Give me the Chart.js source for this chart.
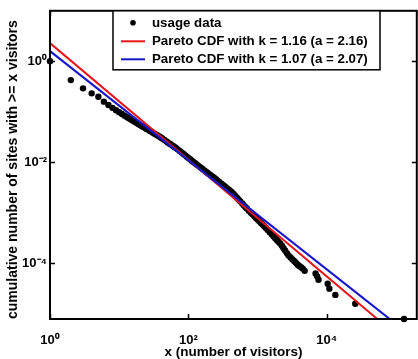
<!DOCTYPE html>
<html><head><meta charset="utf-8">
<script src="https://cdn.jsdelivr.net/npm/chart.js@4.4.1/dist/chart.umd.min.js"></script>
<style>html,body{margin:0;padding:0;background:#fff;overflow:hidden;width:418px;height:359px}canvas{display:block}</style>
</head><body><canvas id="c" width="420" height="359"></canvas>
<script>
// ---- data ----
const seriesLabels = ['usage data', 'Pareto CDF with k = 1.16 (a = 2.16)', 'Pareto CDF with k = 1.07 (a = 2.07)'];
const xTitle = 'x (number of visitors)';
const yTitle = 'cumulative number of sites with >= x visitors';
const xTickValues = [1, 100, 10000];
const yTickValues = [1e-4, 1e-2, 1];
const xRange = [1, 2e5];
const yRange = [7.75e-6, 10];

const usageX = [1,2,3,4,5,6,7,8,9,10,11,12,13,14,15,16,18,20,22,25,28,32,36,40,45,50,56,63,70,80,90,100,
  112,125,140,160,180,200,225,250,280,320,360,400,450,500,560,630,700,800,900,1000,
  1120,1250,1400,1600,1800,2000,2250,2500,2800,3200,3600,4000,4500,
  4790,6890,7260,7600,10300,10900,13300,25800,131000,
  17,19,21,24,27,30,34,38,42,48,53,60,66,75,85,95,106,118,132,150,170,190,212,237,265,300,340,380,425,
  475,530,600,665,750,850,950,1060,1180,1320,1500,1700,1900,2120,2370,2650,3000,3400,3800,4250];
const usageY = [1,0.423,0.290,0.231,0.198,0.158,0.136,0.119,0.107,0.0975,0.0899,0.0834,0.0776,0.0731,0.0690,0.0655,
  0.0594,0.0545,0.0504,0.0453,0.0413,0.0370,0.0336,0.0308,0.0275,0.0248,0.0223,0.0199,0.0179,0.0155,0.0136,0.0121,
  0.0107,0.00948,0.00843,0.00733,0.00647,0.00579,0.00512,0.00457,0.00404,0.00348,0.00305,0.00272,0.00233,0.00199,0.00167,0.00140,0.00120,0.000988,0.000841,0.000728,
  0.000623,0.000535,0.000453,0.000371,0.000310,0.000265,0.000220,0.000177,0.000141,0.000117,0.000100,0.0000875,0.0000774,
  0.0000698,0.0000620,0.0000543,0.0000465,0.0000388,0.0000310,0.0000233,0.0000155,0.00000775,
  0.0624,0.0568,0.0524,0.0469,0.0426,0.0390,0.0352,0.0321,0.0294,0.0258,0.0235,0.0208,0.0190,0.0166,0.0145,0.0128,
  0.0114,0.0101,0.00895,0.00783,0.00687,0.00611,0.00545,0.00484,0.00429,0.00374,0.00326,0.00287,0.00254,
  0.00214,0.00182,0.00151,0.00129,0.00108,0.000910,0.000780,0.000671,0.000578,0.000494,0.000408,0.000339,0.000286,
  0.000243,0.000197,0.000157,0.000128,0.000108,0.0000925,0.0000824];

const paretoRedX = [1, 53700];
const paretoRedY = [2.29, 7.75e-6];
const paretoBlueX = [1, 81300];
const paretoBlueY = [1.58, 7.75e-6];

// ---- helpers ----
const sup = {'0':'\u2070','1':'\u00B9','2':'\u00B2','3':'\u00B3','4':'\u2074','5':'\u2075','-':'\u207B'};
function powLabel(v){ const e = Math.round(Math.log10(v)); return '10' + String(e).split('').map(c => sup[c]).join(''); }
const pairs = (xs, ys) => xs.map((x, i) => ({x: x, y: ys[i]}));
const FONT = 'Liberation Sans, Arial, sans-serif';
const colors = ['#000000', '#e4161c', '#1818c8'];

const framePlugin = {
  id: 'frame',
  afterDatasetsDraw(chart) {
    const {ctx, chartArea: a, scales} = chart;
    ctx.save();
    ctx.strokeStyle = '#000';
    ctx.lineWidth = 1.5;
    ctx.beginPath();
    yTickValues.forEach(v => {
      const p = Math.round(scales.y.getPixelForValue(v)) + 0.5;
      ctx.moveTo(a.left, p); ctx.lineTo(a.left + 5, p);
      ctx.moveTo(a.right, p); ctx.lineTo(a.right - 5, p);
    });
    xTickValues.forEach(v => {
      const p = Math.round(scales.x.getPixelForValue(v)) + 0.5;
      ctx.moveTo(p, a.bottom); ctx.lineTo(p, a.bottom - 5);
      ctx.moveTo(p, a.top); ctx.lineTo(p, a.top + 5);
    });
    ctx.stroke();
    ctx.lineWidth = 2;
    ctx.strokeStyle = '#000';
    ctx.strokeRect(a.left, a.top, a.right - a.left, a.bottom - a.top);
    ctx.restore();
  },
  afterDraw(chart) {
    const {ctx, chartArea: a} = chart;
    const lx = a.left + 63, ly = a.top, lw = 267, lh = 59;
    ctx.save();
    ctx.fillStyle = '#fff';
    ctx.fillRect(lx, ly, lw, lh);
    ctx.strokeStyle = '#000';
    ctx.lineWidth = 1.5;
    ctx.strokeRect(lx, ly, lw, lh);
    const rows = [ly + 12, ly + 30.5, ly + 48.5];
    ctx.font = 'bold 13.3px ' + FONT;
    ctx.textBaseline = 'middle';
    ctx.textAlign = 'left';
    chart.data.datasets.forEach((ds, i) => {
      const y = rows[i];
      if (i === 0) {
        ctx.fillStyle = colors[0];
        ctx.beginPath(); ctx.arc(lx + 20, y, 2.8, 0, Math.PI * 2); ctx.fill();
      } else {
        ctx.strokeStyle = colors[i];
        ctx.lineWidth = 2;
        ctx.beginPath(); ctx.moveTo(lx + 8, y); ctx.lineTo(lx + 32, y); ctx.stroke();
      }
      ctx.fillStyle = '#000';
      ctx.fillText(ds.label, lx + 39, y + 0.5);
    });
    ctx.restore();
  }
};

new Chart(document.getElementById('c'), {
  type: 'scatter',
  data: {
    datasets: [
      {label: seriesLabels[0], data: pairs(usageX, usageY), backgroundColor: colors[0], borderColor: colors[0],
       pointRadius: 3.2, pointBorderWidth: 0, pointHoverRadius: 0, clip: false, order: 3},
      {label: seriesLabels[1], data: pairs(paretoRedX, paretoRedY), showLine: true, borderColor: colors[1],
       borderWidth: 2, pointRadius: 0, pointHoverRadius: 0, order: 2},
      {label: seriesLabels[2], data: pairs(paretoBlueX, paretoBlueY), showLine: true, borderColor: colors[2],
       borderWidth: 2.2, pointRadius: 0, pointHoverRadius: 0, order: 1}
    ]
  },
  options: {
    responsive: false,
    animation: false,
    events: [],
    layout: {padding: {top: 9, right: 1, left: 0, bottom: 0}},
    plugins: {legend: {display: false}, tooltip: {enabled: false}},
    scales: {
      x: {
        type: 'logarithmic', min: xRange[0], max: xRange[1],
        afterBuildTicks: s => { s.ticks = xTickValues.map(v => ({value: v})); },
        afterFit: s => { s.height = 40; },
        grid: {display: false}, border: {display: false},
        ticks: {callback: v => powLabel(v), color: '#000', padding: 6, maxRotation: 0, autoSkip: false,
                font: {family: FONT, weight: 'bold', size: 13}},
        title: {display: true, text: xTitle, color: '#000', padding: {top: 0, bottom: 0},
                font: {family: FONT, weight: 'bold', size: 13.5, lineHeight: 1}}
      },
      y: {
        type: 'logarithmic', min: yRange[0], max: yRange[1],
        afterBuildTicks: s => { s.ticks = yTickValues.map(v => ({value: v})); },
        afterFit: s => { s.width = 50; },
        grid: {display: false, drawTicks: false, tickLength: 0}, border: {display: false},
        ticks: {callback: v => powLabel(v), color: '#000', padding: 3, autoSkip: false,
                font: {family: FONT, weight: 'bold', size: 13}},
        title: {display: true, text: yTitle, color: '#000', align: 'start', padding: {top: 6, bottom: 0},
                font: {family: FONT, weight: 'bold', size: 14, lineHeight: 1}}
      }
    }
  },
  plugins: [framePlugin]
});
</script>
</body></html>
